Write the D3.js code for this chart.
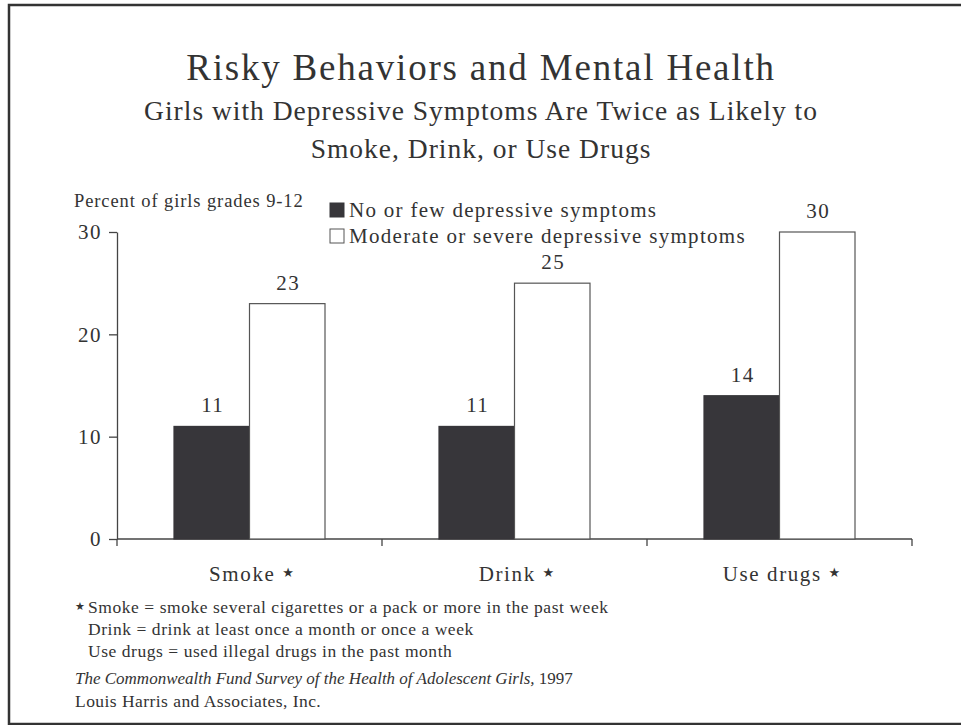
<!DOCTYPE html>
<html>
<head>
<meta charset="utf-8">
<script src="https://cdn.jsdelivr.net/npm/d3@7"></script>
<style>
  html, body { margin: 0; padding: 0; background: #fff; }
  svg { display: block; }
  text { font-family: "Liberation Serif", "DejaVu Serif", serif; fill: #333; }
</style>
</head>
<body>
<svg id="chart" width="961" height="725"></svg>
<script>
const categories = ["Smoke", "Drink", "Use drugs"];
const seriesNames = ["No or few depressive symptoms", "Moderate or severe depressive symptoms"];
const noFew = [11, 11, 14];
const moderateSevere = [23, 25, 30];
const yTicks = [0, 10, 20, 30];
const footnotes = [
  "Smoke = smoke several cigarettes or a pack or more in the past week",
  "Drink = drink at least once a month or once a week",
  "Use drugs = used illegal drugs in the past month"
];

const svg = d3.select("#chart");
const dark = "#37363a";
const textColor = "#333";

// frame
svg.append("rect").attr("x", 9).attr("y", 5).attr("width", 1000).attr("height", 719)
  .attr("fill", "none").attr("stroke", "#333").attr("stroke-width", 2.5);

// titles
svg.append("text").attr("x", 481).attr("y", 80).attr("text-anchor", "middle")
  .style("font-size", "37px").style("letter-spacing", "1.8px").text("Risky Behaviors and Mental Health");
svg.append("text").attr("x", 481).attr("y", 120).attr("text-anchor", "middle")
  .style("font-size", "27.5px").style("letter-spacing", "1px").text("Girls with Depressive Symptoms Are Twice as Likely to");
svg.append("text").attr("x", 481).attr("y", 158).attr("text-anchor", "middle")
  .style("font-size", "27.5px").style("letter-spacing", "1px").text("Smoke, Drink, or Use Drugs");

// scales
const x0 = d3.scaleBand().domain(categories).range([117, 912]).paddingInner(0).paddingOuter(0);
const x1 = d3.scaleBand().domain(seriesNames).range([0, x0.bandwidth()]).paddingInner(0).paddingOuter(0.755);
const y = d3.scaleLinear().domain([0, 30]).range([539, 232]);

// y axis
const yAxis = svg.append("g").attr("transform", "translate(117,0)")
  .call(d3.axisLeft(y).tickValues(yTicks).tickSize(8).tickPadding(7).tickSizeOuter(0));
yAxis.select(".domain").attr("stroke", "#444").attr("stroke-width", 1.3);
yAxis.selectAll(".tick line").attr("stroke", "#444").attr("stroke-width", 1.3);
yAxis.selectAll(".tick text").style("font-size", "21px").style("letter-spacing", "1.5px").attr("fill", textColor)
  .style("font-family", '"Liberation Serif", serif');

// x axis line and boundary ticks
const xAxisG = svg.append("g");
xAxisG.append("line").attr("x1", x0.range()[0]).attr("x2", x0.range()[1])
  .attr("y1", y(0)).attr("y2", y(0)).attr("stroke", "#444").attr("stroke-width", 1.3);
const boundaries = categories.map(c => x0(c)).concat([x0(categories[categories.length - 1]) + x0.bandwidth()]);
xAxisG.selectAll("line.b").data(boundaries).enter().append("line").attr("class", "b")
  .attr("x1", d => d).attr("x2", d => d).attr("y1", y(0)).attr("y2", y(0) + 7)
  .attr("stroke", "#444").attr("stroke-width", 1.3);

// category labels
const catLabels = svg.append("g").selectAll("text").data(categories).enter().append("text")
  .attr("x", d => x0(d) + x0.bandwidth() / 2 + 2).attr("y", 581).attr("text-anchor", "middle")
  .style("font-size", "21px").style("letter-spacing", "1.6px");
catLabels.append("tspan").text(d => d + " ");
catLabels.append("tspan").text("★").style("font-size", "13px").style("letter-spacing", "0px").attr("dy", -4)
  .style("font-family", '"DejaVu Sans", sans-serif');

// bars
const data = categories.map((c, i) => ({ cat: c, values: [noFew[i], moderateSevere[i]] }));
const groups = svg.append("g").selectAll("g").data(data).enter().append("g")
  .attr("transform", d => `translate(${x0(d.cat)},0)`);
groups.selectAll("rect").data(d => d.values.map((v, j) => ({ s: seriesNames[j], v, j }))).enter()
  .append("rect")
  .attr("x", d => x1(d.s)).attr("y", d => y(d.v))
  .attr("width", x1.bandwidth()).attr("height", d => y(0) - y(d.v))
  .attr("fill", d => d.j === 0 ? dark : "#fff")
  .attr("stroke", d => d.j === 0 ? dark : "#555").attr("stroke-width", 1.2);
groups.selectAll("text").data(d => d.values.map((v, j) => ({ s: seriesNames[j], v, j }))).enter()
  .append("text")
  .attr("x", d => x1(d.s) + x1.bandwidth() / 2 + 1).attr("y", d => y(d.v) - 14)
  .attr("text-anchor", "middle").style("font-size", "21px").style("letter-spacing", "1.5px").text(d => d.v);

// y axis title
svg.append("text").attr("x", 74).attr("y", 207).style("font-size", "18.5px").style("letter-spacing", "0.9px")
  .text("Percent of girls grades 9-12");

// legend
const legend = svg.append("g");
const legendRows = [217, 243];
seriesNames.forEach((s, i) => {
  legend.append("rect").attr("x", 330).attr("y", legendRows[i] - 14).attr("width", 14).attr("height", 14)
    .attr("fill", i === 0 ? dark : "#fff").attr("stroke", i === 0 ? dark : "#555").attr("stroke-width", 1);
  legend.append("text").attr("x", 349).attr("y", legendRows[i]).style("font-size", "21px")
    .style("letter-spacing", "1.3px").text(s);
});

// footnotes
const fn = svg.append("g");
const fnY = [613, 635, 657];
footnotes.forEach((t, i) => {
  const tx = fn.append("text").attr("x", i === 0 ? 75 : 88).attr("y", fnY[i]).style("font-size", "17.5px")
    .style("letter-spacing", "0.55px");
  if (i === 0) {
    tx.append("tspan").text("★").style("font-size", "11px").attr("dy", -3)
      .style("font-family", '"DejaVu Sans", sans-serif');
    tx.append("tspan").attr("x", 88).attr("dy", 3).text(t);
  } else {
    tx.text(t);
  }
});
const src = svg.append("text").attr("x", 75).attr("y", 684).style("font-size", "17px");
src.append("tspan").style("font-style", "italic").text("The Commonwealth Fund Survey of the Health of Adolescent Girls,");
src.append("tspan").text(" 1997");
svg.append("text").attr("x", 75).attr("y", 707).style("font-size", "17.5px").style("letter-spacing", "0.45px")
  .text("Louis Harris and Associates, Inc.");
</script>
</body>
</html>
